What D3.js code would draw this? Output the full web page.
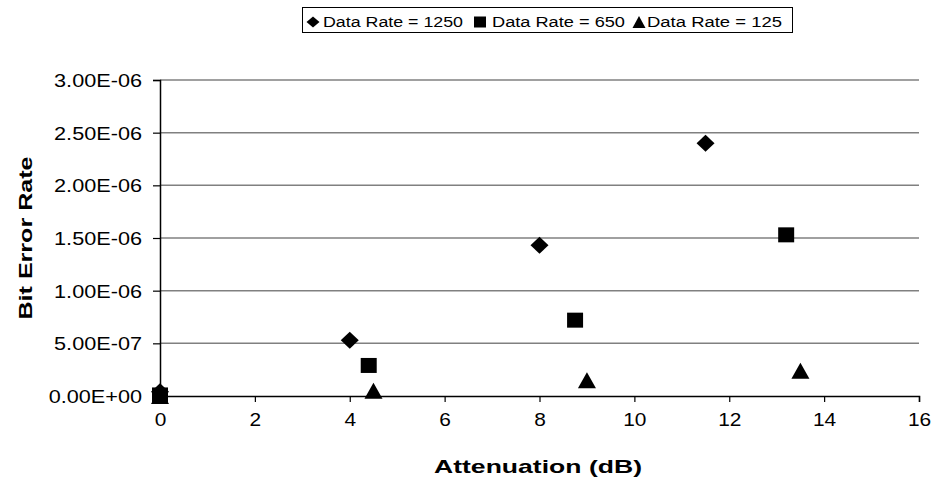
<!DOCTYPE html>
<html><head><meta charset="utf-8">
<script src="https://cdn.jsdelivr.net/npm/d3@7"></script>
<style>
html,body{margin:0;padding:0;background:#fff;}
text{font-family:"Liberation Sans",Arial,sans-serif;fill:#000;}
</style></head>
<body><svg id="chart" width="935" height="483"></svg>
<script>
// ---- data ----
const seriesNames = ["Data Rate = 1250", "Data Rate = 650", "Data Rate = 125"];
const atten1250 = [0, 4, 8, 11.5];
const ber1250   = [4e-8, 5.3e-7, 1.43e-6, 2.40e-6];
const atten650  = [0, 4.4, 8.75, 13.2];
const ber650    = [1e-8, 2.9e-7, 7.2e-7, 1.53e-6];
const atten125  = [0, 4.5, 9, 13.5];
const ber125    = [0, 5e-8, 1.5e-7, 2.4e-7];
const xTicks = [0, 2, 4, 6, 8, 10, 12, 14, 16];
const yTicks = [0, 5e-7, 1e-6, 1.5e-6, 2e-6, 2.5e-6, 3e-6];
const xTitle = "Attenuation (dB)";
const yTitle = "Bit Error Rate";

const svg = d3.select("#chart");
const L = 160, R = 919, T = 80, B = 396;
const x = d3.scaleLinear().domain([0, 16]).range([L, R]);
const y = d3.scaleLinear().domain([0, 3e-6]).range([B, T]);

function fmt(v){
  const [m, e] = v.toExponential(2).split("e");
  const sign = e[0] === "-" ? "-" : "+";
  const d = Math.abs(+e);
  return m + "E" + sign + (d < 10 ? "0" + d : d);
}
function stretch(sel, f){
  sel.each(function(){
    const w = this.getComputedTextLength();
    d3.select(this).attr("textLength", w * f).attr("lengthAdjust", "spacingAndGlyphs");
  });
}

// gridlines
svg.append("g").selectAll("line").data(yTicks.filter(d => d > 0)).join("line")
  .attr("x1", L).attr("x2", R).attr("y1", d => y(d)).attr("y2", d => y(d))
  .attr("stroke", "#808080").attr("stroke-width", 1.5);

// y axis
const yAxis = svg.append("g").attr("transform", `translate(${L},0)`)
  .call(d3.axisLeft(y).tickValues(yTicks).tickFormat(fmt).tickSize(7).tickPadding(11));
yAxis.select(".domain").attr("stroke", "#000").attr("stroke-width", 1.5);
yAxis.selectAll(".tick line").attr("stroke", "#000").attr("stroke-width", 1.2);
yAxis.selectAll("text").attr("font-size", 19).attr("font-family", "Liberation Sans, Arial").attr("dy", "0.35em").call(stretch, 1.14);

// x axis
const xAxis = svg.append("g").attr("transform", `translate(0,${B})`)
  .call(d3.axisBottom(x).tickValues(xTicks).tickFormat(d3.format("d")).tickSize(6).tickPadding(22));
xAxis.select(".domain").attr("stroke", "#000").attr("stroke-width", 1.5);
xAxis.selectAll(".tick line").attr("stroke", "#000").attr("stroke-width", 1.2);
xAxis.selectAll("text").attr("font-size", 19).attr("font-family", "Liberation Sans, Arial").attr("dy", "0.1em").call(stretch, 1.1);

// titles
svg.append("text").attr("x", 538).attr("y", 473).attr("text-anchor", "middle")
  .attr("font-size", 19).attr("font-weight", "bold").text(xTitle)
  .attr("textLength", 208).attr("lengthAdjust", "spacingAndGlyphs");
svg.append("text").attr("transform", "translate(32,238) rotate(-90)").attr("text-anchor", "middle")
  .attr("font-size", 19).attr("font-weight", "bold").text(yTitle)
  .attr("textLength", 163).attr("lengthAdjust", "spacingAndGlyphs");

// marker paths (bbox-centred)
function diamond(w, hgt){ const a = w/2, b = hgt/2; return `M0,${-b}L${a},0L0,${b}L${-a},0Z`; }
function rectP(w, hgt){ const a = w/2, b = hgt/2; return `M${-a},${-b}H${a}V${b}H${-a}Z`; }
function triangle(w, hgt){ const a = w/2, b = hgt/2; return `M0,${-b}L${a},${b}L${-a},${b}Z`; }
const shapes = [diamond(18, 17), rectP(16, 15), triangle(18, 16)];
const legendShapes = [diamond(13, 11), rectP(12, 11), triangle(13, 12)];

const series = [
  {xs: atten1250, ys: ber1250},
  {xs: atten650,  ys: ber650},
  {xs: atten125,  ys: ber125}
];
series.forEach((s, i) => {
  svg.append("g").selectAll("path").data(s.xs.map((v, j) => [v, s.ys[j]])).join("path")
    .attr("d", shapes[i])
    .attr("transform", d => `translate(${x(d[0])},${y(d[1])})`)
    .attr("fill", "#000");
});

// legend
const lg = svg.append("g");
lg.append("rect").attr("x", 302.5).attr("y", 7.5).attr("width", 490).attr("height", 25)
  .attr("fill", "#fff").attr("stroke", "#000").attr("stroke-width", 1);
const legendMarkX = [313, 480, 639];
const legendTextX = [323, 492, 647];
const legendTextW = [140, 133, 135];
seriesNames.forEach((n, i) => {
  lg.append("path").attr("d", legendShapes[i]).attr("transform", `translate(${legendMarkX[i]},22)`).attr("fill", "#000");
  lg.append("text").attr("x", legendTextX[i]).attr("y", 26.5).attr("font-size", 15.5).text(n)
    .attr("textLength", legendTextW[i]).attr("lengthAdjust", "spacingAndGlyphs");
});
</script></body></html>
